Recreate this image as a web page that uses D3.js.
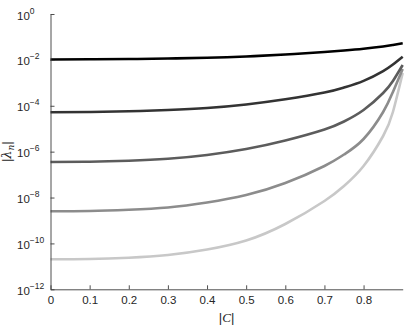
<!DOCTYPE html>
<html>
<head>
<meta charset="utf-8">
<script src="https://cdn.jsdelivr.net/npm/d3@7"></script>
<style>
  body { margin: 0; background: #fff; }
  text { font-family: "Liberation Sans", Arial, sans-serif; fill: #262626; }
</style>
</head>
<body>
<div id="chart"></div>
<script>
var svgWidth = 407;
var svgHeight = 328;

var margin = { top: 14, right: 4.3, bottom: 38.7, left: 50.5 };
var width = svgWidth - margin.left - margin.right;
var height = svgHeight - margin.top - margin.bottom;

// |C| sample positions
var cValues = [0, 0.1, 0.2, 0.3, 0.4, 0.5, 0.6, 0.7, 0.75, 0.8, 0.85, 0.875, 0.9];

// |lambda_n| curves
var lambda1 = [1.04e-2, 1.06e-2, 1.09e-2, 1.15e-2, 1.23e-2, 1.40e-2, 1.72e-2, 2.20e-2, 2.56e-2, 3.07e-2, 3.83e-2, 4.45e-2, 5.28e-2];
var lambda2 = [5.19e-5, 5.35e-5, 5.73e-5, 6.53e-5, 7.98e-5, 1.14e-4, 1.91e-4, 3.75e-4, 6.25e-4, 1.22e-3, 3.27e-3, 6.29e-3, 1.38e-2];
var lambda3 = [3.53e-7, 3.64e-7, 4.03e-7, 4.88e-7, 7.14e-7, 1.30e-6, 3.06e-6, 9.23e-6, 2.06e-5, 6.53e-5, 3.60e-4, 1.20e-3, 5.98e-3];
var lambda4 = [2.51e-9, 2.58e-9, 2.92e-9, 3.67e-9, 6.07e-9, 1.29e-8, 4.30e-8, 2.37e-7, 7.50e-7, 3.56e-6, 5.35e-5, 3.98e-4, 4.0e-3];
var lambda5 = [2.03e-11, 2.09e-11, 2.38e-11, 3.12e-11, 5.42e-11, 1.34e-10, 7.01e-10, 7.05e-9, 3.18e-8, 2.37e-7, 4.81e-6, 5.35e-5, 2.68e-3];

var seriesColors = ["#000000", "#333333", "#5c5c5c", "#8c8c8c", "#c8c8c8"];

var xTicks = [0, 0.1, 0.2, 0.3, 0.4, 0.5, 0.6, 0.7, 0.8];
var yExponents = [0, -2, -4, -6, -8, -10, -12];

var svg = d3.select("#chart")
  .append("svg")
  .attr("width", svgWidth)
  .attr("height", svgHeight);

var chartGroup = svg.append("g")
  .attr("transform", `translate(${margin.left}, ${margin.top})`);

var xScale = d3.scaleLinear().domain([0, 0.9]).range([0, width]);
var yScale = d3.scaleLog().domain([1e-12, 1]).range([height, 0]);

// curves, lightest drawn first
var allSeries = [lambda1, lambda2, lambda3, lambda4, lambda5];
var line = d3.line()
  .x(d => xScale(d[0]))
  .y(d => yScale(d[1]))
  .curve(d3.curveNatural);

for (var i = allSeries.length - 1; i >= 0; i--) {
  var pts = cValues.map((c, j) => [c, allSeries[i][j]]);
  chartGroup.append("path")
    .datum(pts)
    .attr("fill", "none")
    .attr("stroke", seriesColors[i])
    .attr("stroke-width", 2.6)
    .attr("d", line);
}

// x axis, ticks pointing inward
var bottomAxis = d3.axisBottom(xScale)
  .tickValues(xTicks)
  .tickSize(-4)
  .tickSizeOuter(0)
  .tickPadding(7)
  .tickFormat(d3.format(""));

var xAxisG = chartGroup.append("g")
  .attr("transform", `translate(0, ${height})`)
  .call(bottomAxis);
xAxisG.selectAll("text").style("font-size", "11.5px").attr("fill", "#262626");

// y axis
var leftAxis = d3.axisLeft(yScale)
  .tickValues(yExponents.map(e => Math.pow(10, e)))
  .tickSize(-4)
  .tickSizeOuter(0)
  .tickFormat("");

var yAxisG = chartGroup.append("g").call(leftAxis);

[xAxisG, yAxisG].forEach(function(g) {
  g.select(".domain").attr("stroke", "#3a3a3a").attr("stroke-width", 0.9);
  g.selectAll(".tick line").attr("stroke", "#3a3a3a").attr("stroke-width", 0.9);
});

// y tick labels: 10 with superscript exponent
yExponents.forEach(function(e) {
  var t = chartGroup.append("text")
    .attr("x", -33.5)
    .attr("y", yScale(Math.pow(10, e)) + 5.5)
    .style("font-size", "11.5px");
  t.append("tspan").text("10");
  t.append("tspan")
    .attr("dy", -6)
    .style("font-size", "8.5px")
    .text(e < 0 ? "\u2212" + (-e) : String(e));
});

// axis labels
var yLabel = svg.append("text")
  .attr("transform", `translate(11, ${margin.top + height / 2}) rotate(-90)`)
  .attr("text-anchor", "middle")
  .style("font-size", "13px");
yLabel.append("tspan").text("|");
yLabel.append("tspan").style("font-family", "'DejaVu Serif', serif").style("font-style", "italic").text("\u03bb");
yLabel.append("tspan").attr("dy", 3).style("font-size", "9px").style("font-family", "'DejaVu Serif', serif").style("font-style", "italic").text("n");
yLabel.append("tspan").attr("dy", -3).text("|");

var xLabel = svg.append("text")
  .attr("x", margin.left + width / 2)
  .attr("y", 322)
  .attr("text-anchor", "middle")
  .style("font-size", "13px");
xLabel.append("tspan").text("|");
xLabel.append("tspan").style("font-family", "'Liberation Serif', serif").style("font-style", "italic").text("C");
xLabel.append("tspan").text("|");
</script>
</body>
</html>
